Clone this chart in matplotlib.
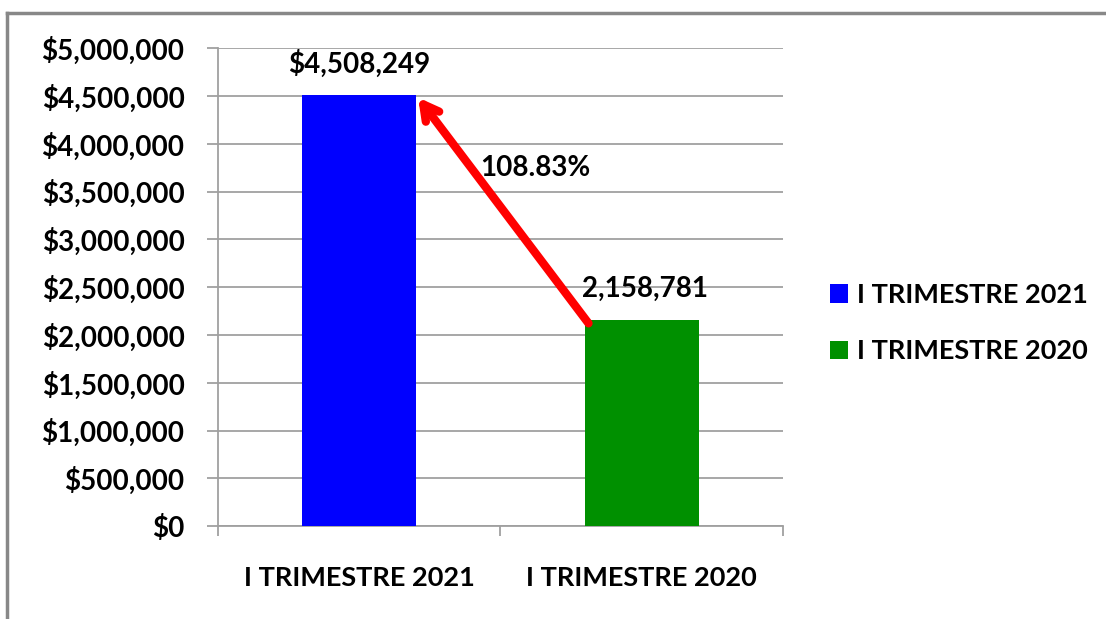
import matplotlib.pyplot as plt
from matplotlib.lines import Line2D
from matplotlib.patches import Patch
from matplotlib.ticker import FuncFormatter

categories = ["I TRIMESTRE 2021", "I TRIMESTRE 2020"]
values = [4508249, 2158781]
value_labels = ["$4,508,249", "2,158,781"]
colors = ["#0000ff", "#009000"]
change_label = "108.83%"
y_ticks = list(range(0, 5000001, 500000))

plt.rcParams["font.family"] = ["Lato", "DejaVu Sans"]
plt.rcParams["font.weight"] = "bold"

fig = plt.figure(figsize=(11.06, 6.19), dpi=100)
ax = fig.add_axes([0.197, 0.150, 0.511, 0.772])

width = 0.405
x = list(range(len(categories)))
ax.bar(x, values, width=width, color=colors, zorder=3)

ax.set_xlim(-0.5, 1.5)
ax.set_ylim(0, 5000000)
ax.set_yticks(y_ticks)
ax.yaxis.set_major_formatter(FuncFormatter(lambda v, _: f"${v:,.0f}"))
ax.set_xticks([-0.5, 0.5, 1.5], minor=False)
ax.set_xticklabels([])
ax.set_xticks(x, minor=True)
ax.set_xticklabels(categories, minor=True)

grid_c = "#a0a0a0"
ax.grid(axis="y", color=grid_c, linewidth=1.3, zorder=0)
for s in ["top", "right"]:
    ax.spines[s].set_visible(False)
for s in ["left", "bottom"]:
    ax.spines[s].set_color(grid_c)
    ax.spines[s].set_linewidth(1.3)

ax.tick_params(axis="y", length=8, width=1.3, color=grid_c, labelsize=20, pad=16)
ax.tick_params(axis="x", which="major", length=7, width=1.3, color=grid_c)
ax.tick_params(axis="x", which="minor", length=0, labelsize=19.5, pad=29)

# value labels
ax.text(x[0], values[0] + 330000, value_labels[0], ha="center", va="center", fontsize=20)
ax.text(x[1] + 0.01, values[1] + 320000, value_labels[1], ha="center", va="center", fontsize=20)

# arrow from top-left of 2020 bar to top-right of 2021 bar
ax.annotate("", xy=(x[0] + width / 2, values[0]), xytext=(x[1] - width / 2 + 0.02, values[1] - 60000),
            arrowprops=dict(arrowstyle="->,head_length=1.1,head_width=0.6", color="#ff0000", lw=6),
            zorder=5)
ax.text(0.625, 3745000, change_label, ha="center", va="center", fontsize=20, zorder=6)

handles = [Patch(facecolor=c) for c in colors]
fig.legend(handles, categories, loc="center left", bbox_to_anchor=(0.728, 0.478),
           frameon=False, fontsize=19.5, handlelength=0.67, handleheight=0.67,
           handletextpad=0.35, labelspacing=1.2)

# outer frame
border = "#888888"
fig.add_artist(Line2D([7 / 1106, 1.0], [1 - 13 / 619] * 2, color=border, lw=2.5))
fig.add_artist(Line2D([7 / 1106] * 2, [0.0, 1 - 13 / 619], color=border, lw=2.5))

fig.savefig("out.png", dpi=100)
